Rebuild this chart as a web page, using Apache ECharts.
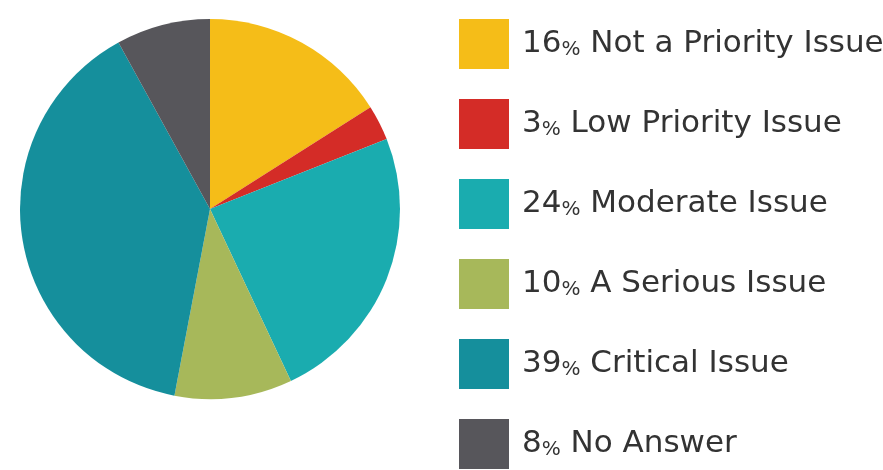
<!DOCTYPE html>
<html>
<head>
<meta charset="utf-8">
<script src="https://cdn.jsdelivr.net/npm/echarts@6/dist/echarts.min.js"></script>
<style>
  html, body { margin: 0; padding: 0; background: #ffffff; }
  #chart { width: 883px; height: 470px; }
</style>
</head>
<body>
<div id="chart"></div>
<script>
// Survey responses: how serious an issue is it?
const categories = [
  'Not a Priority Issue',
  'Low Priority Issue',
  'Moderate Issue',
  'A Serious Issue',
  'Critical Issue',
  'No Answer'
];
const percents = [16, 3, 24, 10, 39, 8];
const colors = ['#F5BD18', '#D42C27', '#1AACAF', '#A7B85A', '#158F9C', '#57565B'];

const pieData = categories.map((name, i) => ({
  name: name,
  value: percents[i],
  itemStyle: { color: colors[i] }
}));

const chart = echarts.init(document.getElementById('chart'), null, { renderer: 'canvas' });

chart.setOption({
  animation: false,
  backgroundColor: '#ffffff',
  legend: {
    type: 'plain',
    orient: 'vertical',
    left: 459,
    top: 19,
    height: 520,
    padding: 0,
    itemWidth: 50,
    itemHeight: 50,
    itemGap: 30,
    icon: 'rect',
    selectedMode: false,
    data: categories,
    formatter: function (name) {
      const i = categories.indexOf(name);
      return '{n|' + percents[i] + '}{p|%}{t| ' + name + '}';
    },
    textStyle: {
      color: '#333333',
      fontFamily: 'DejaVu Sans',
      fontSize: 31,
      rich: {
        n: { fontFamily: 'DejaVu Sans', fontSize: 31, color: '#333333', padding: [0, 0, 0, 8] },
        p: { fontFamily: 'DejaVu Sans', fontSize: 20, color: '#333333', verticalAlign: 'bottom' },
        t: { fontFamily: 'DejaVu Sans', fontSize: 31, color: '#333333' }
      }
    }
  },
  series: [{
    type: 'pie',
    center: [210, 209],
    radius: [0, 190],
    startAngle: 90,
    clockwise: true,
    label: { show: false },
    labelLine: { show: false },
    emphasis: { disabled: true },
    itemStyle: { borderWidth: 0 },
    data: pieData
  }]
});
</script>
</body>
</html>
